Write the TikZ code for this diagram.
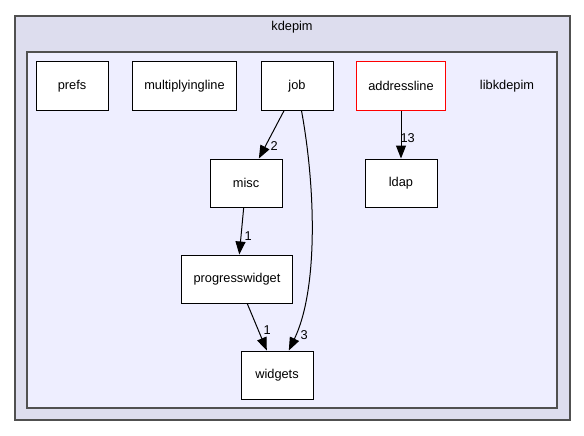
\documentclass[tikz,border=0pt]{standalone}
\usepackage{fontspec}
\setmainfont{Liberation Sans}
\usetikzlibrary{arrows.meta}
\definecolor{outerfill}{HTML}{DDDDEE}
\definecolor{innerfill}{HTML}{EEEEFF}
\definecolor{framegray}{HTML}{505050}

\begin{document}
\begin{tikzpicture}[x=1pt,y=-1pt,>={Triangle[length=13pt,width=10pt]},
 every node/.style={font=\fontsize{12.8}{15}\selectfont},
 dir/.style={draw=black,line width=1pt,fill=white,minimum width=72pt,minimum height=48pt,inner xsep=12pt},
 hot/.style={dir,draw=red},
 dep/.style={->,line width=1pt},
 lbl/.style={inner sep=0pt}]
\useasboundingbox (0,0) rectangle (584,436);
\draw[framegray,line width=1.5pt,fill=outerfill](15,16)rectangle(570,420);
\draw[framegray,line width=1.2pt,fill=innerfill](27,52)rectangle(557,408);
\node(top)at(292,27){kdepim};\node(lib)at(507,86){libkdepim};
\node[dir](prefs)at(72,86){prefs};\node[dir](mult)at(184.5,86){multiplyingline};
\node[dir](job)at(297,86){job};\node[hot](addr)at(401,86){addressline};
\node[dir](misc)at(246,183){misc};\node[dir](ldap)at(401,183){ldap};
\node[dir](prog)at(237,279){progresswidget};
\node[dir](wid)at(277,375){widgets};
\draw[dep](job)--node[lbl,pos=.75,right=5pt](n2){2}(misc);
\draw[dep](addr)--node[lbl,pos=.57,right=-1pt](n13){13}(ldap);
\draw[dep](misc)--node[lbl,pos=.6,right=3pt](n1a){1}(prog);
\draw[dep](prog)--node[lbl,pos=.56,right=5pt](n1b){1}(wid);
\draw[dep](job)..controls(316,190)and(318,290)..node[lbl,pos=.92,right=5pt](n3){3}(wid);
\end{tikzpicture}
\end{document}
